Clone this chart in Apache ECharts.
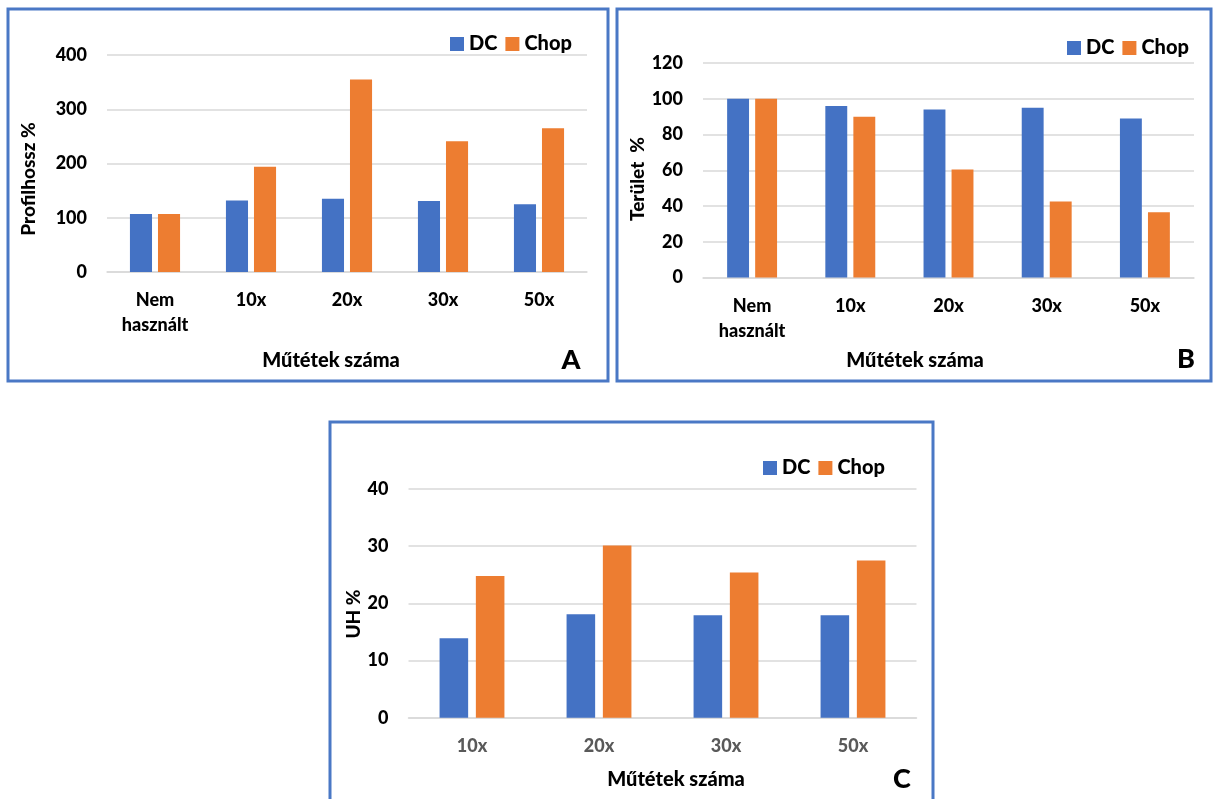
<!DOCTYPE html>
<html>
<head>
<meta charset="utf-8">
<script src="https://cdn.jsdelivr.net/npm/echarts@6/dist/echarts.min.js"></script>
<style>
html,body{margin:0;padding:0;background:#fff;}
#c{width:1214px;height:799px;}
</style>
</head>
<body>
<div id="c"></div>
<script>
// ---- data ----
const categoriesAB = ['Nem\nhasznált', '10x', '20x', '30x', '50x'];
const categoriesC = ['10x', '20x', '30x', '50x'];
const seriesNames = ['DC', 'Chop'];
const profilDC = [107, 132, 135, 131, 125];
const profilChop = [107, 194, 355, 241, 265];
const teruletDC = [100, 96, 94, 95, 89];
const teruletChop = [100, 90, 60.4, 42.5, 36.5];
const uhDC = [13.9, 18.1, 17.9, 17.9];
const uhChop = [24.8, 30.1, 25.4, 27.5];
const yTitles = ['Profilhossz %', 'Terület  %', 'UH %'];
const xTitle = 'Műtétek száma';
const panelLetters = ['A', 'B', 'C'];

// ---- style ----
const FONT = 'Lato';
const W = 900;
const BLUE = '#4472C4';
const ORANGE = '#ED7D31';
const GRID = '#d9d9d9';
const BORDER = '#4a78c5';

const chart = echarts.init(document.getElementById('c'), null, {renderer: 'canvas'});

function yAxis(gridIndex, max, interval) {
  return {
    type: 'value', gridIndex, min: 0, max, interval,
    axisLine: {show: false}, axisTick: {show: false},
    splitLine: {lineStyle: {color: GRID, width: 1.5}},
    axisLabel: {fontFamily: FONT, fontWeight: W, fontSize: 18, color: '#000', margin: 20}
  };
}
function xAxis(gridIndex, data, color) {
  return {
    type: 'category', gridIndex, data,
    axisLine: {lineStyle: {color: GRID, width: 1.5}},
    axisTick: {show: false},
    axisLabel: {fontFamily: FONT, fontWeight: W, fontSize: 18, color, margin: 16, lineHeight: 25, interval: 0}
  };
}
function bar(name, data, idx, color, bw, gap) {
  return {
    type: 'bar', name, data, xAxisIndex: idx, yAxisIndex: idx,
    itemStyle: {color}, barWidth: bw, barGap: gap,
    emphasis: {disabled: true}, animation: false
  };
}
function legend(left, top) {
  return {
    data: seriesNames, left, top, padding: 0,
    icon: 'rect', itemWidth: 14, itemHeight: 14, itemGap: 8,
    textStyle: {fontFamily: FONT, fontWeight: W, fontSize: 20, color: '#000', lineHeight: 20},
    selectedMode: false
  };
}
function txt(x, y, text, size, rot) {
  return {
    type: 'text', x, y, rotation: rot || 0,
    style: {text, fontFamily: FONT, fontWeight: W, fontSize: size, fill: '#000',
            textAlign: 'center', textVerticalAlign: 'middle'}
  };
}
function box(x, y, w, h) {
  return {type: 'rect', shape: {x, y, width: w, height: h},
          style: {fill: 'none', stroke: BORDER, lineWidth: 3}};
}

const option = {
  animation: false,
  grid: [
    {left: 107, top: 55, width: 480, height: 217},
    {left: 703, top: 63, width: 491, height: 214.5},
    {left: 408.5, top: 489, width: 508, height: 228.7}
  ],
  xAxis: [xAxis(0, categoriesAB, '#000'), xAxis(1, categoriesAB, '#000'), xAxis(2, categoriesC, '#595959')],
  yAxis: [yAxis(0, 400, 100), yAxis(1, 120, 20), yAxis(2, 40, 10)],
  legend: [legend(450, 34), legend(1067, 38), legend(763, 458)],
  series: [
    bar('DC', profilDC, 0, BLUE, '23%', '27%'),
    bar('Chop', profilChop, 0, ORANGE, '23%', '27%'),
    bar('DC', teruletDC, 1, BLUE, '22.3%', '28%'),
    bar('Chop', teruletChop, 1, ORANGE, '22.3%', '28%'),
    bar('DC', uhDC, 2, BLUE, '22.5%', '27%'),
    bar('Chop', uhChop, 2, ORANGE, '22.5%', '27%')
  ],
  graphic: [
    box(8, 9, 600, 372),
    box(617, 9, 594, 372),
    box(330, 422, 603, 400),
    txt(29, 179, yTitles[0], 19, Math.PI / 2),
    txt(638, 179, yTitles[1], 19, Math.PI / 2),
    txt(354, 614, yTitles[2], 19, Math.PI / 2),
    txt(331, 361, xTitle, 20),
    txt(915, 361, xTitle, 20),
    txt(676, 780, xTitle, 20),
    txt(571, 360, panelLetters[0], 27),
    txt(1186, 359, panelLetters[1], 27),
    txt(902, 779, panelLetters[2], 27)
  ]
};
chart.setOption(option);
</script>
</body>
</html>
